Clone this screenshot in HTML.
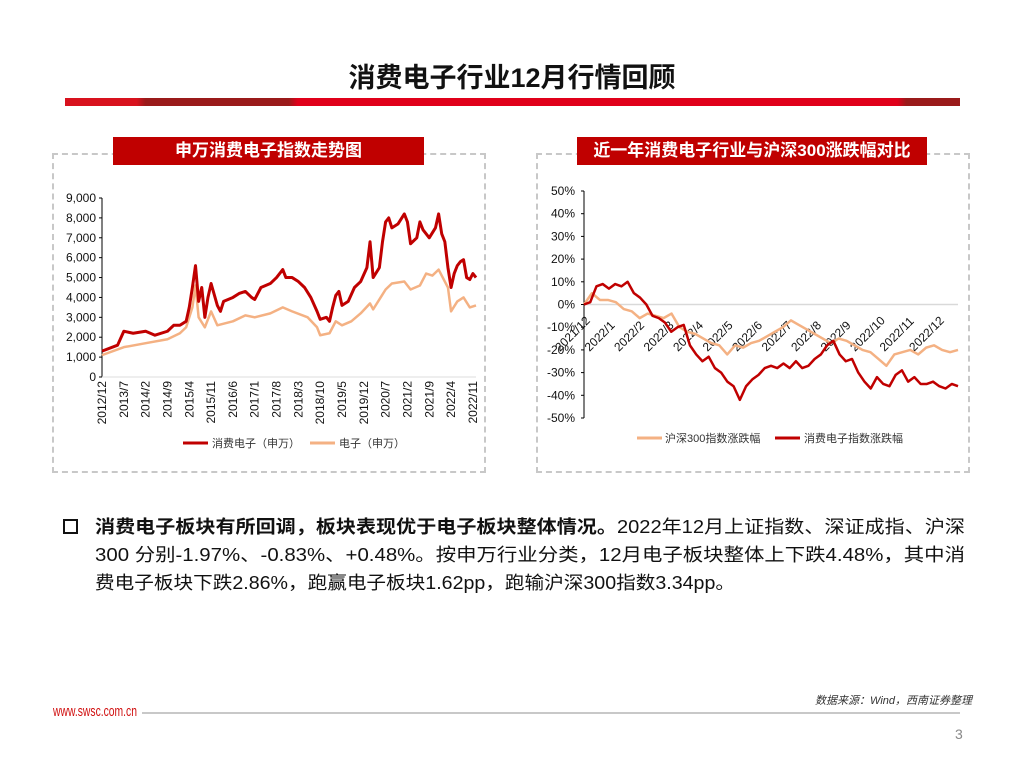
<!DOCTYPE html>
<html><head><meta charset="utf-8">
<style>
body{margin:0;background:#fff;}
#page{position:relative;width:1024px;height:768px;overflow:hidden;background:#fff;font-family:"Liberation Sans","Noto Sans CJK SC",sans-serif;}
.abs{position:absolute;}
.panel{position:absolute;border:2px dashed #c8c8c8;}
.ptitle{position:absolute;background:#c00000;color:#fff;font-weight:bold;font-size:17px;text-align:center;line-height:28px;}
.line{position:absolute;white-space:nowrap;font-size:18px;color:#111;transform-origin:0 0;font-family:"Liberation Sans Narrow","Liberation Sans","Noto Sans CJK SC",sans-serif;}
</style></head><body>
<div id="page">
<div class="abs" style="left:0;width:1024px;top:56px;text-align:center;font-size:27px;font-weight:bold;color:#111;">消费电子行业12月行情回顾</div>
<div class="abs" style="left:65px;top:98px;width:895px;height:8px;background:linear-gradient(90deg,#d8121e 0%,#d8121e 8%,#9a1a1a 9%,#9a1a1a 25%,#e0001a 26%,#e0001a 93%,#9a1a1a 94%);"></div>

<div class="panel" style="left:52px;top:153px;width:430px;height:316px;"></div>
<div class="panel" style="left:536px;top:153px;width:430px;height:316px;"></div>
<div class="ptitle" style="left:113px;top:137px;width:311px;height:28px;">申万消费电子指数走势图</div>
<div class="ptitle" style="left:577px;top:137px;width:350px;height:28px;">近一年消费电子行业与沪深300涨跌幅对比</div>

<svg class="abs" style="left:0;top:0" width="1024" height="768" id="charts"></svg>

<div class="abs" style="left:63px;top:519px;width:11px;height:11px;border:2px solid #111;"></div>
<div class="line" id="l1" style="left:95px;top:513px;"><b>消费电子板块有所回调，板块表现优于电子板块整体情况。</b>2022年12月上证指数、深证成指、沪深</div>
<div class="line" id="l2" style="left:95px;top:541px;">300 分别-1.97%、-0.83%、+0.48%。按申万行业分类，12月电子板块整体上下跌4.48%，其中消</div>
<div class="line" id="l3" style="left:95px;top:569px;">费电子板块下跌2.86%，跑赢电子板块1.62pp，跑输沪深300指数3.34pp。</div>

<div class="abs" style="right:52px;top:692px;font-size:11px;font-style:italic;color:#333;">数据来源：Wind，西南证券整理</div>
<div class="abs" id="web" style="left:53px;top:703px;font-size:15px;color:#d01010;white-space:nowrap;transform-origin:0 0;">www.swsc.com.cn</div>
<div class="abs" style="left:142px;top:712px;width:818px;height:2px;background:#c8c8c8;"></div>
<div class="abs" style="left:955px;top:726px;font-size:14px;color:#888;">3</div>
</div>
<script>
// Left chart data (month index from 2012/12)
const leftTicks=["2012/12","2013/7","2014/2","2014/9","2015/4","2015/11","2016/6","2017/1","2017/8","2018/3","2018/10","2019/5","2019/12","2020/7","2021/2","2021/9","2022/4","2022/11"];
const leftYTicks=[0,1000,2000,3000,4000,5000,6000,7000,8000,9000];
const redMonths=[0,5,7,10,14,17,21,23,25,27,28,29,30,31,32,33,34,35,37,38,39,42,44,46,48,49,51,54,56,58,59,61,63,65,67,69,70,72,73,74,75,76,77,79,81,83,85,86,87,89,90,91,92,93,95,97,98,99,101,102,103,105,107,108,109,110,111,112,113,114,115,116,117,118,119,120];
const redVals=[1300,1600,2300,2200,2300,2100,2300,2600,2600,2800,3500,4500,5600,3800,4500,3000,4000,4700,3600,3300,3800,4000,4200,4300,4000,3900,4500,4700,5000,5400,5000,5000,4800,4500,4000,3300,2900,3000,2800,3500,4100,4300,3600,3800,4500,4800,5500,6800,5000,5500,6800,7800,8000,7500,7700,8200,7800,6700,7000,7800,7400,7000,7500,8200,7200,6800,5500,4500,5200,5600,5800,5900,5000,4900,5200,5000];
const orgMonths=[0,7,14,21,25,27,29,30,31,33,35,37,42,46,49,54,58,61,66,69,70,73,75,77,80,83,86,87,91,93,97,99,102,104,106,108,110,111,112,114,116,118,120];
const orgVals=[1100,1500,1700,1900,2200,2500,3500,4600,3000,2500,3300,2600,2800,3100,3000,3200,3500,3300,3000,2500,2100,2200,2800,2600,2800,3200,3700,3400,4400,4700,4800,4400,4600,5200,5100,5400,4800,4500,3300,3800,4000,3500,3600];
// Right chart data (% change)
const rightTicks=["2021/12","2022/1","2022/2","2022/3","2022/4","2022/5","2022/6","2022/7","2022/8","2022/9","2022/10","2022/11","2022/12"];
const rightYTicks=[50,40,30,20,10,0,-10,-20,-30,-40,-50];
const redPct=[0,1,8,9,7,9,8,10,5,3,0,-5,-6,-8,-12,-10,-9,-18,-22,-25,-23,-28,-30,-34,-36,-42,-36,-33,-31,-28,-27,-28,-26,-28,-25,-28,-27,-24,-22,-18,-16,-22,-25,-24,-30,-34,-37,-32,-35,-36,-31,-29,-34,-32,-35,-35,-34,-36,-37,-35,-36];
const hsPct=[0,5,2,2,1,-2,-3,-6,-4,-5,-6,-4,-10,-12,-13,-15,-17,-18,-22,-18,-19,-17,-16,-14,-12,-10,-7,-9,-11,-13,-15,-17,-15,-16,-18,-20,-21,-24,-27,-22,-21,-20,-22,-19,-18,-20,-21,-20];

const svg=document.getElementById('charts');
const NS='http://www.w3.org/2000/svg';
function mk(t,a,txt){const e=document.createElementNS(NS,t);for(const k in a)e.setAttribute(k,a[k]);if(txt!==undefined)e.textContent=txt;svg.appendChild(e);return e;}
// Left axes
const lx=m=>102+m*(374/120), ly=v=>377-v*(179/9000);
let e=mk('line',{x1:102,y1:198,x2:102,y2:377,stroke:'#000','stroke-width':1});

e=mk('line',{x1:102,y1:377,x2:476,y2:377,stroke:'#ddd','stroke-width':1});

leftYTicks.forEach(v=>{
  let t=mk('text',{x:96,y:ly(v)+4,'text-anchor':'end','font-size':12,fill:'#111'},v.toLocaleString('en-US'));
  
  let l=mk('line',{x1:99,y1:ly(v),x2:102,y2:ly(v),stroke:'#000'});
  
});
leftTicks.forEach((s,i)=>{
  const x=lx(i*7)+4;
  let t=mk('text',{x:x,y:381,'text-anchor':'end','font-size':12,fill:'#111',transform:`rotate(-90 ${x} 381)`},s);
  
});
function poly(xs,ys,fx,fy,col,w,name){
  const p=mk('polyline',{points:xs.map((x,i)=>fx(x)+','+fy(ys[i])).join(' '),fill:'none',stroke:col,'stroke-width':w,'stroke-linejoin':'round'});
  
}
poly(orgMonths,orgVals,lx,ly,'#f4b183',2.5,'electronics-line');
poly(redMonths,redVals,lx,ly,'#c00000',3,'consumer-electronics-line');
e=mk('line',{x1:183,y1:443,x2:208,y2:443,stroke:'#c00000','stroke-width':3});

e=mk('text',{x:212,y:447,'font-size':11,fill:'#333'},'消费电子（申万）');

e=mk('line',{x1:310,y1:443,x2:335,y2:443,stroke:'#f4b183','stroke-width':3});

e=mk('text',{x:339,y:447,'font-size':11,fill:'#333'},'电子（申万）');


// Right chart
const rx0=584,rx1=958;
const ry=v=>304.5-v*2.27;
e=mk('line',{x1:rx0,y1:ry(0),x2:rx1,y2:ry(0),stroke:'#d9d9d9','stroke-width':1.5});

e=mk('line',{x1:rx0,y1:ry(50),x2:rx0,y2:ry(-50),stroke:'#000'});

rightYTicks.forEach(v=>{
  let t=mk('text',{x:575,y:ry(v)+4,'text-anchor':'end','font-size':12,fill:'#111'},v+'%');
  
  let l=mk('line',{x1:rx0-3,y1:ry(v),x2:rx0,y2:ry(v),stroke:'#000'});
  
});
rightTicks.forEach((s,i)=>{
  const x=rx0+i*29.5-24, y=352;
  let t=mk('text',{x:x,y:y,'text-anchor':'start','font-size':12,fill:'#111',transform:`rotate(-45 ${x} ${y})`},s);
  
});
const rfx=n=>(i=>rx0+i*(rx1-rx0)/(n-1));
poly(hsPct.map((_,i)=>i),hsPct,rfx(hsPct.length),ry,'#f4b183',2.5,'hs300-line');
poly(redPct.map((_,i)=>i),redPct,rfx(redPct.length),ry,'#c00000',2.5,'consumer-electronics-pct-line');
e=mk('line',{x1:637,y1:438,x2:662,y2:438,stroke:'#f4b183','stroke-width':3});

e=mk('text',{x:665,y:442,'font-size':11,fill:'#333'},'沪深300指数涨跌幅');

e=mk('line',{x1:775,y1:438,x2:800,y2:438,stroke:'#c00000','stroke-width':3});

e=mk('text',{x:804,y:442,'font-size':11,fill:'#333'},'消费电子指数涨跌幅');


// fit text lines
[['l1',870],['l2',870],['l3',640],['web',84]].forEach(([id,w])=>{
  const el=document.getElementById(id);const r=el.getBoundingClientRect().width;
  el.style.transform='scaleX('+(w/r)+')';
});
</script>
</body></html>
